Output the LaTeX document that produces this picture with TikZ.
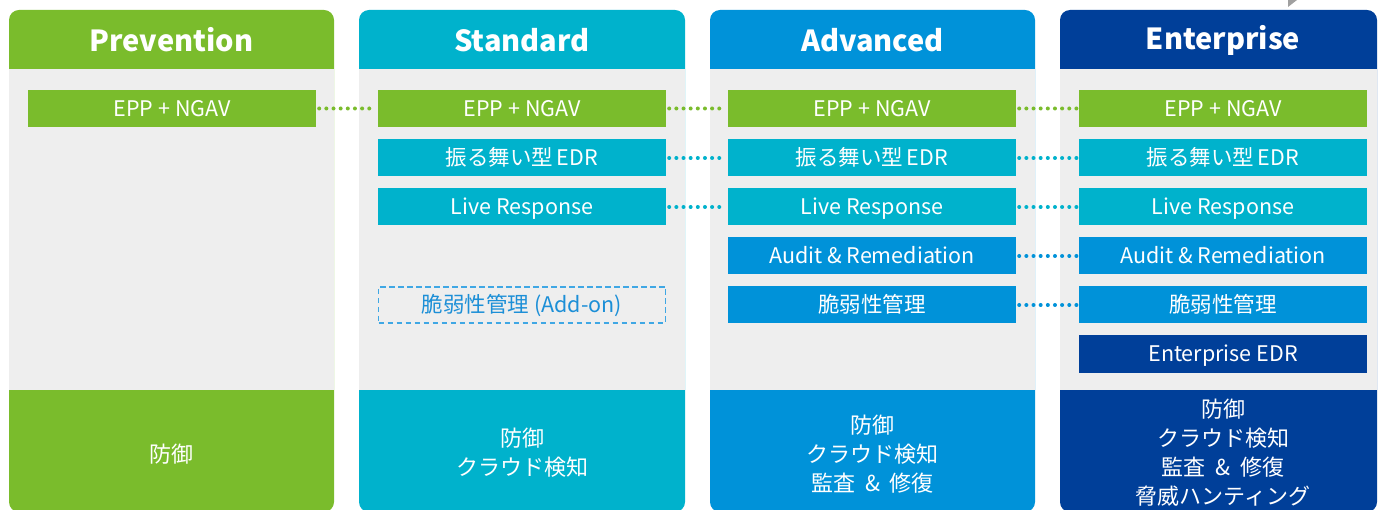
\documentclass[tikz,border=0pt]{standalone}
\usepackage{fontspec}
\setmainfont{Noto Sans CJK JP}
\definecolor{cgreen}{HTML}{7ABC2C}
\definecolor{cteal}{HTML}{00B2CC}
\definecolor{cblue}{HTML}{0092D9}
\definecolor{cnavy}{HTML}{003F99}
\definecolor{cgrey}{HTML}{EEEEEE}
\definecolor{cdash}{HTML}{3FA7E4}
\definecolor{cdashtext}{HTML}{1C8FD7}
\definecolor{cmark}{HTML}{A0A0A0}
\newcommand{\amp}{\hspace{0.45em}\&\hspace{0.45em}}
\begin{document}
\begin{tikzpicture}[x=1pt,y=-1pt,
  head/.style={text=white,font=\bfseries\fontsize{29}{34}\selectfont},
  item/.style={minimum width=288pt,minimum height=37pt,inner sep=0pt,text=white,
    text height=15.6pt,text depth=0pt,font=\fontsize{21.5}{24}\selectfont},
  addon/.style={minimum width=287pt,minimum height=36pt,inner sep=0pt,draw=cdash,
    line width=1.4pt,dash pattern=on 5.5pt off 3.5pt,text=cdashtext,
    text height=15.6pt,text depth=0pt,font=\fontsize{21.5}{24}\selectfont},
  foot/.style={text=white,align=center,font=\fontsize{22}{29}\selectfont},
  dots/.style={line width=4pt,line cap=round,dash pattern=on 0pt off 7.15pt}]
\useasboundingbox (0,0) rectangle (1378,510);

% columns: coloured rounded body, grey middle band
\foreach \xl/\xr/\c in {9/334/cgreen,359/685/cteal,710/1035/cblue,1060/1377/cnavy}{
  \fill[\c,rounded corners=10pt] (\xl,10) rectangle (\xr,512);
  \fill[cgrey] (\xl,69) rectangle (\xr,390);
}
\fill[cmark] (1288,0) -- (1297,0) -- (1288,7) -- cycle;

% headers
\node[head] (hp) at (171.5,40) {Prevention};
\node[head] (hs) at (522,40) {Standard};
\node[head] (ha) at (872.5,40) {Advanced};
\node[head] (he) at (1223,40) {Enterprise};

% Prevention
\node[item,fill=cgreen] (p1) at (172,108.5) {EPP + NGAV};

% Standard
\node[item,fill=cgreen] (s1) at (522,108.5) {EPP + NGAV};
\node[item,fill=cteal] (s2) at (522,158) {振る舞い型\,EDR};
\node[item,fill=cteal] (s3) at (522,207) {Live Response};
\node[addon] (s5) at (522,305) {脆弱性管理 (Add-on)};

% Advanced
\node[item,fill=cgreen] (a1) at (872,108.5) {EPP + NGAV};
\node[item,fill=cteal] (a2) at (872,158) {振る舞い型\,EDR};
\node[item,fill=cteal] (a3) at (872,207) {Live Response};
\node[item,fill=cblue] (a4) at (872,256) {Audit \& Remediation};
\node[item,fill=cblue] (a5) at (872,305) {脆弱性管理};

% Enterprise
\node[item,fill=cgreen] (e1) at (1223,108.5) {EPP + NGAV};
\node[item,fill=cteal] (e2) at (1223,158) {振る舞い型\,EDR};
\node[item,fill=cteal] (e3) at (1223,207) {Live Response};
\node[item,fill=cblue] (e4) at (1223,256) {Audit \& Remediation};
\node[item,fill=cblue] (e5) at (1223,305) {脆弱性管理};
\node[item,fill=cnavy] (e6) at (1223,354) {Enterprise EDR};

% dotted links between matching features
\draw[dots,cgreen] ([xshift=3pt]p1.east) -- ([xshift=-2pt]s1.west);
\draw[dots,cgreen] ([xshift=3pt]s1.east) -- ([xshift=-2pt]a1.west);
\draw[dots,cgreen] ([xshift=3pt]a1.east) -- ([xshift=-2pt]e1.west);
\draw[dots,cteal] ([xshift=3pt]s2.east) -- ([xshift=-2pt]a2.west);
\draw[dots,cteal] ([xshift=3pt]a2.east) -- ([xshift=-2pt]e2.west);
\draw[dots,cteal] ([xshift=3pt]s3.east) -- ([xshift=-2pt]a3.west);
\draw[dots,cteal] ([xshift=3pt]a3.east) -- ([xshift=-2pt]e3.west);
\draw[dots,cblue] ([xshift=3pt]a4.east) -- ([xshift=-2pt]e4.west);
\draw[dots,cblue] ([xshift=3pt]a5.east) -- ([xshift=-2pt]e5.west);

% footers
\node[foot] (fp) at (171.5,454.5) {防御};
\node[foot] (fs) at (522,452.5) {防御\\クラウド検知};
\node[foot] (fa) at (872.5,454) {防御\\クラウド検知\\監査\amp 修復};
\node[foot] (fe) at (1223,452.5) {防御\\クラウド検知\\監査\amp 修復\\脅威ハンティング};
\end{tikzpicture}
\end{document}
